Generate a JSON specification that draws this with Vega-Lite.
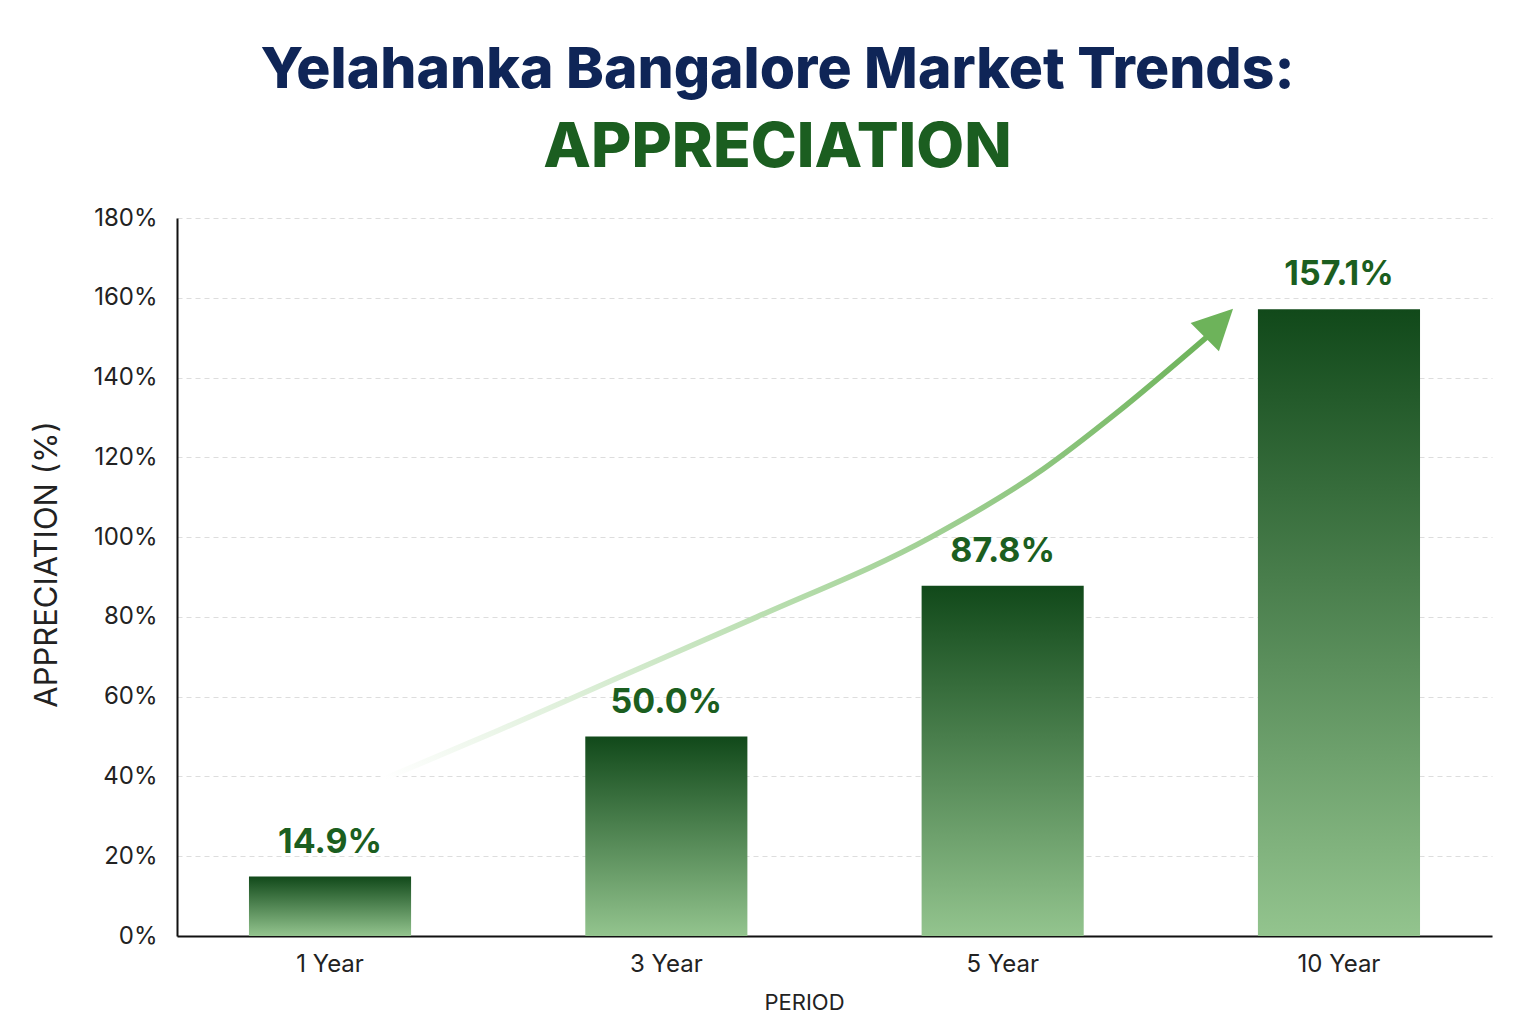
{
  "$schema": "https://vega.github.io/schema/vega-lite/v6.json",
  "width": 1315,
  "height": 718,
  "autosize": {"type": "none"},
  "padding": {"left": 177, "top": 218, "right": 44, "bottom": 88},
  "background": "#ffffff",
  "config": {"view": {"stroke": null}},
  "title": {
    "text": "Yelahanka Bangalore Market Trends:",
    "subtitle": "APPRECIATION",
    "anchor": "middle",
    "frame": "group",
    "dx": -57,
    "offset": 26,
    "font": "Inter",
    "fontSize": 57,
    "fontWeight": 800,
    "color": "#0f2557",
    "subtitleFont": "Inter",
    "subtitleFontSize": 62,
    "subtitleFontWeight": 800,
    "subtitleColor": "#1b5e20",
    "subtitlePadding": 18
  },
  "datasets": {
    "bars": [
      {"period": "1 Year", "appreciation": 14.9, "label": "14.9%"},
      {"period": "3 Year", "appreciation": 50.0, "label": "50.0%"},
      {"period": "5 Year", "appreciation": 87.8, "label": "87.8%"},
      {"period": "10 Year", "appreciation": 157.1, "label": "157.1%"}
    ],
    "arrow": [
      {"pos": 1.164, "level": 39.5},
      {"pos": 1.5, "level": 51.5},
      {"pos": 1.836, "level": 64},
      {"pos": 2.27, "level": 80},
      {"pos": 2.787, "level": 100},
      {"pos": 3.12, "level": 117},
      {"pos": 3.337, "level": 131},
      {"pos": 3.605, "level": 150}
    ],
    "head": [
      {"pos": 3.643, "level": 153.7}
    ]
  },
  "layer": [
    {
      "data": {"name": "bars"},
      "encoding": {
        "x": {
          "field": "period",
          "type": "nominal",
          "sort": null,
          "scale": {"paddingInner": 0.518, "paddingOuter": 0.214},
          "axis": {
            "title": "PERIOD",
            "titleX": 627,
            "labelAngle": 0,
            "labelFont": "Inter",
            "labelFontSize": 24,
            "labelColor": "#222222",
            "labelPadding": 16,
            "titleFont": "Inter",
            "titleFontSize": 22,
            "titleFontWeight": 400,
            "titleColor": "#222222",
            "titlePadding": 16,
            "ticks": false,
            "tickSize": 0,
            "domainColor": "#111111",
            "domainWidth": 2,
            "grid": false
          }
        },
        "y": {
          "field": "appreciation",
          "type": "quantitative",
          "scale": {"domain": [0, 180], "nice": false},
          "axis": {
            "title": "APPRECIATION (%)",
            "titleY": 346,
            "values": [0, 20, 40, 60, 80, 100, 120, 140, 160, 180],
            "labelExpr": "datum.value + '%'",
            "labelFont": "Inter",
            "labelFontSize": 24,
            "labelColor": "#222222",
            "labelPadding": 20,
            "titleFont": "Inter",
            "titleFontSize": 31,
            "titleFontWeight": 400,
            "titleColor": "#222222",
            "titlePadding": 30,
            "ticks": false,
            "tickSize": 0,
            "domainColor": "#111111",
            "domainWidth": 2,
            "grid": true,
            "gridColor": "#dddddd",
            "gridDash": [5, 4]
          }
        }
      },
      "layer": [
        {
          "mark": {
            "type": "bar",
            "color": {
              "gradient": "linear",
              "x1": 0, "y1": 0, "x2": 0, "y2": 1,
              "stops": [
                {"offset": 0, "color": "#11491a"},
                {"offset": 1, "color": "#93c48e"}
              ]
            }
          }
        },
        {
          "mark": {
            "type": "text",
            "baseline": "alphabetic",
            "dy": -24,
            "font": "Inter",
            "fontSize": 34,
            "fontWeight": 700,
            "color": "#1b5e20"
          },
          "encoding": {"text": {"field": "label"}}
        }
      ]
    },
    {
      "encoding": {
        "x": {
          "field": "pos",
          "type": "quantitative",
          "scale": {"domain": [0.545, 4.455], "nice": false, "zero": false},
          "axis": null
        },
        "y": {"field": "level", "type": "quantitative"}
      },
      "layer": [
        {
          "data": {"name": "arrow"},
          "mark": {
            "type": "line",
            "interpolate": "monotone",
            "strokeWidth": 5.5,
            "strokeCap": "round",
            "stroke": {
              "gradient": "linear",
              "x1": 0, "y1": 1, "x2": 1, "y2": 0,
              "stops": [
                {"offset": 0, "color": "#ffffff"},
                {"offset": 0.45, "color": "#b5dcab"},
                {"offset": 1, "color": "#6db35a"}
              ]
            }
          }
        },
        {
          "data": {"name": "head"},
          "mark": {
            "type": "point",
            "shape": "M0,-1L1,1L-1,1Z",
            "size": 1600,
            "angle": 45,
            "filled": true,
            "opacity": 1,
            "color": "#6db35a"
          }
        }
      ]
    }
  ],
  "resolve": {"scale": {"x": "independent"}}
}
